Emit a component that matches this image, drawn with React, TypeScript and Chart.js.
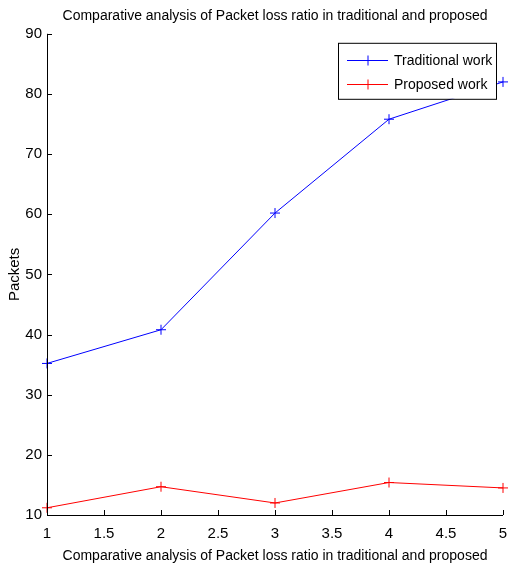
import React, { useEffect, useRef } from "react";
import { Chart, registerables } from "chart.js";

Chart.register(...registerables);

const xValues = [1, 2, 3, 4, 5];
const traditional = [35.2, 40.8, 60.2, 75.8, 82.0];
const proposed = [11.2, 14.7, 12.0, 15.4, 14.5];
const seriesLabels = ["Traditional work", "Proposed work"];
const seriesColors = ["#0000ff", "#ff0000"];
const titleText = "Comparative analysis of Packet loss ratio in traditional and proposed";
const yTitle = "Packets";

const FONT = "'Liberation Sans', Arial, Helvetica, sans-serif";

const innerTicks = {
  id: "innerTicks",
  afterDraw(chart: any) {
    const ctx = chart.ctx;
    const { left, bottom, top, right } = chart.chartArea;
    const xs = chart.scales.x;
    const ys = chart.scales.y;
    ctx.save();
    ctx.strokeStyle = "#000";
    ctx.lineWidth = 1;
    ctx.beginPath();
    ctx.moveTo(left + 0.5, top);
    ctx.lineTo(left + 0.5, bottom + 0.5);
    ctx.lineTo(right, bottom + 0.5);
    ctx.stroke();
    ctx.beginPath();
    xs.ticks.forEach((t: any) => {
      const px = Math.round(xs.getPixelForValue(t.value)) + 0.5;
      ctx.moveTo(px, bottom);
      ctx.lineTo(px, bottom - 5);
    });
    ys.ticks.forEach((t: any) => {
      const py = Math.round(ys.getPixelForValue(t.value)) + 0.5;
      ctx.moveTo(left, py);
      ctx.lineTo(left + 5, py);
    });
    ctx.stroke();
    ctx.restore();
  },
};

const boxLegend = {
  id: "boxLegend",
  afterDraw(chart: any) {
    const ctx = chart.ctx;
    const { right, top } = chart.chartArea;
    const bx = right - 165;
    const by = top + 9;
    const bw = 158;
    const bh = 56;
    ctx.save();
    ctx.fillStyle = "#fff";
    ctx.fillRect(bx, by, bw, bh);
    ctx.strokeStyle = "#000";
    ctx.lineWidth = 1;
    ctx.strokeRect(bx + 0.5, by + 0.5, bw, bh);
    ctx.font = "14px " + FONT;
    ctx.textBaseline = "middle";
    chart.data.datasets.forEach((ds: any, i: number) => {
      const ly = Math.round(by + 17 + i * 24) + 0.5;
      ctx.strokeStyle = ds.borderColor;
      ctx.beginPath();
      ctx.moveTo(bx + 9, ly);
      ctx.lineTo(bx + 50, ly);
      ctx.moveTo(bx + 30, ly - 5);
      ctx.lineTo(bx + 30, ly + 5);
      ctx.stroke();
      ctx.fillStyle = "#000";
      ctx.fillText(ds.label, bx + 56, ly + 1);
    });
    ctx.restore();
  },
};

export default function App() {
  const ref = useRef<HTMLCanvasElement>(null);
  useEffect(() => {
    if (!ref.current) return;
    const mk = (vals: number[]) => xValues.map((x, i) => ({ x, y: vals[i] }));
    const ds = (label: string, vals: number[], color: string) => ({
      label,
      data: mk(vals),
      borderColor: color,
      backgroundColor: color,
      borderWidth: 1,
      pointStyle: "cross",
      pointRadius: 5,
      pointBorderWidth: 1,
      tension: 0,
    });
    const chart = new Chart(ref.current, {
      type: "line",
      data: {
        datasets: [
          ds(seriesLabels[0], traditional, seriesColors[0]),
          ds(seriesLabels[1], proposed, seriesColors[1]),
        ] as any,
      },
      options: {
        animation: false,
        responsive: false,
        clip: false as any,
        layout: { padding: { left: 0, right: 2, top: 0, bottom: 0 } },
        plugins: {
          legend: { display: false },
          tooltip: { enabled: false },
          title: {
            display: true,
            fullSize: false,
            text: titleText,
            color: "#000",
            font: { family: FONT, size: 14, weight: "normal" },
            padding: { top: 8, bottom: 9 },
          },
        },
        scales: {
          x: {
            type: "linear",
            min: 1,
            max: 5,
            ticks: {
              stepSize: 0.5,
              color: "#000",
              font: { family: FONT, size: 15 },
              padding: 10,
              maxRotation: 0,
              callback: (v: any) => String(v),
            },
            grid: { display: false, drawTicks: false },
            border: { display: false },
            title: {
              display: true,
              text: titleText,
              color: "#000",
              font: { family: FONT, size: 14 },
              padding: { top: 2, bottom: 1 },
            },
            afterFit: (s: any) => {
              s.height = 51;
              s.paddingLeft = 0;
              s.paddingRight = 0;
            },
          },
          y: {
            min: 10,
            max: 90,
            ticks: {
              stepSize: 10,
              color: "#000",
              font: { family: FONT, size: 15 },
              padding: 5,
            },
            grid: { display: false, drawTicks: false },
            border: { display: false },
            title: {
              display: true,
              text: yTitle,
              color: "#000",
              font: { family: FONT, size: 15 },
              padding: { top: 6, bottom: 4 },
            },
            afterFit: (s: any) => {
              s.width = 47;
              s.paddingTop = 0;
              s.paddingBottom = 0;
            },
          },
        },
      },
      plugins: [innerTicks, boxLegend],
    });
    return () => chart.destroy();
  }, []);
  return (
    <div style={{ position: "fixed", left: 0, top: 0, width: 509, height: 566, background: "#fff" }}>
      <canvas ref={ref} width={509} height={566} style={{ display: "block" }} />
    </div>
  );
}
